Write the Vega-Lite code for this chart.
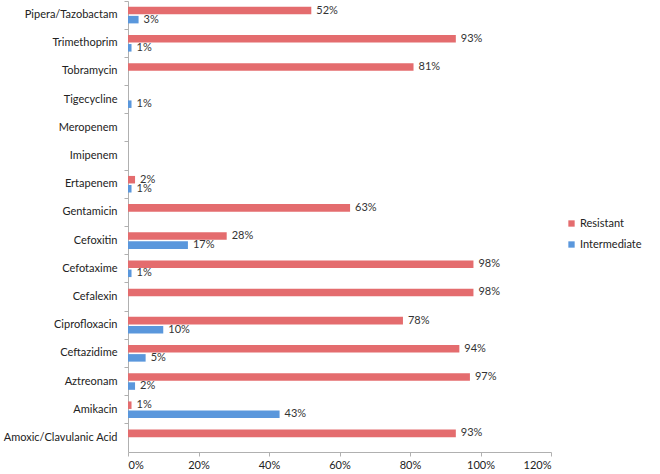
{
  "$schema": "https://vega.github.io/schema/vega-lite/v6.json",
  "autosize": "none",
  "width": 423,
  "height": 451,
  "padding": {"left": 128, "top": 1, "right": 109, "bottom": 22},
  "background": "white",
  "config": {
    "view": {"stroke": null},
    "font": "Lato",
    "axis": {"labelFont": "Lato", "labelFontSize": 11, "labelColor": "#222", "domainColor": "#b0b0b0", "tickColor": "#b0b0b0", "grid": false, "title": null}
  },
  "data": {
    "values": [
      {"drug": "Pipera/Tazobactam", "type": "Resistant", "value": 52},
      {"drug": "Pipera/Tazobactam", "type": "Intermediate", "value": 3},
      {"drug": "Trimethoprim", "type": "Resistant", "value": 93},
      {"drug": "Trimethoprim", "type": "Intermediate", "value": 1},
      {"drug": "Tobramycin", "type": "Resistant", "value": 81},
      {"drug": "Tigecycline", "type": "Intermediate", "value": 1},
      {"drug": "Ertapenem", "type": "Resistant", "value": 2},
      {"drug": "Ertapenem", "type": "Intermediate", "value": 1},
      {"drug": "Gentamicin", "type": "Resistant", "value": 63},
      {"drug": "Cefoxitin", "type": "Resistant", "value": 28},
      {"drug": "Cefoxitin", "type": "Intermediate", "value": 17},
      {"drug": "Cefotaxime", "type": "Resistant", "value": 98},
      {"drug": "Cefotaxime", "type": "Intermediate", "value": 1},
      {"drug": "Cefalexin", "type": "Resistant", "value": 98},
      {"drug": "Ciprofloxacin", "type": "Resistant", "value": 78},
      {"drug": "Ciprofloxacin", "type": "Intermediate", "value": 10},
      {"drug": "Ceftazidime", "type": "Resistant", "value": 94},
      {"drug": "Ceftazidime", "type": "Intermediate", "value": 5},
      {"drug": "Aztreonam", "type": "Resistant", "value": 97},
      {"drug": "Aztreonam", "type": "Intermediate", "value": 2},
      {"drug": "Amikacin", "type": "Resistant", "value": 1},
      {"drug": "Amikacin", "type": "Intermediate", "value": 43},
      {"drug": "Amoxic/Clavulanic Acid", "type": "Resistant", "value": 93}
    ]
  },
  "encoding": {
    "y": {
      "field": "drug", "type": "nominal",
      "scale": {"domain": ["Pipera/Tazobactam", "Trimethoprim", "Tobramycin", "Tigecycline", "Meropenem", "Imipenem", "Ertapenem", "Gentamicin", "Cefoxitin", "Cefotaxime", "Cefalexin", "Ciprofloxacin", "Ceftazidime", "Aztreonam", "Amikacin", "Amoxic/Clavulanic Acid"], "paddingInner": 0, "paddingOuter": 0},
      "axis": {"bandPosition": 0, "tickSize": 4, "labelPadding": 7}
    },
    "yOffset": {
      "field": "type", "type": "nominal",
      "scale": {"domain": ["Resistant", "Intermediate"], "paddingInner": 0.17, "paddingOuter": 0.64}
    },
    "x": {
      "field": "value", "type": "quantitative",
      "scale": {"domain": [0, 120], "nice": false},
      "axis": {"values": [0, 20, 40, 60, 80, 100, 120], "labelExpr": "datum.value + '%'", "tickSize": 4, "labelPadding": 3}
    }
  },
  "layer": [
    {
      "mark": {"type": "bar"},
      "encoding": {
        "color": {
          "field": "type", "type": "nominal",
          "scale": {"domain": ["Resistant", "Intermediate"], "range": ["#e46c6e", "#5a97dc"]},
          "legend": {"title": null, "orient": "none", "legendX": 438, "legendY": 217, "symbolType": "square", "symbolSize": 40, "labelFont": "Lato", "labelFontSize": 11, "labelColor": "#222", "rowPadding": 9, "labelOffset": 3}
        }
      }
    },
    {
      "transform": [{"calculate": "datum.value + '%'", "as": "label"}],
      "mark": {"type": "text", "align": "left", "baseline": "middle", "dx": 5, "fontSize": 11, "color": "#333", "font": "Lato"},
      "encoding": {"text": {"field": "label", "type": "nominal"}}
    }
  ]
}
